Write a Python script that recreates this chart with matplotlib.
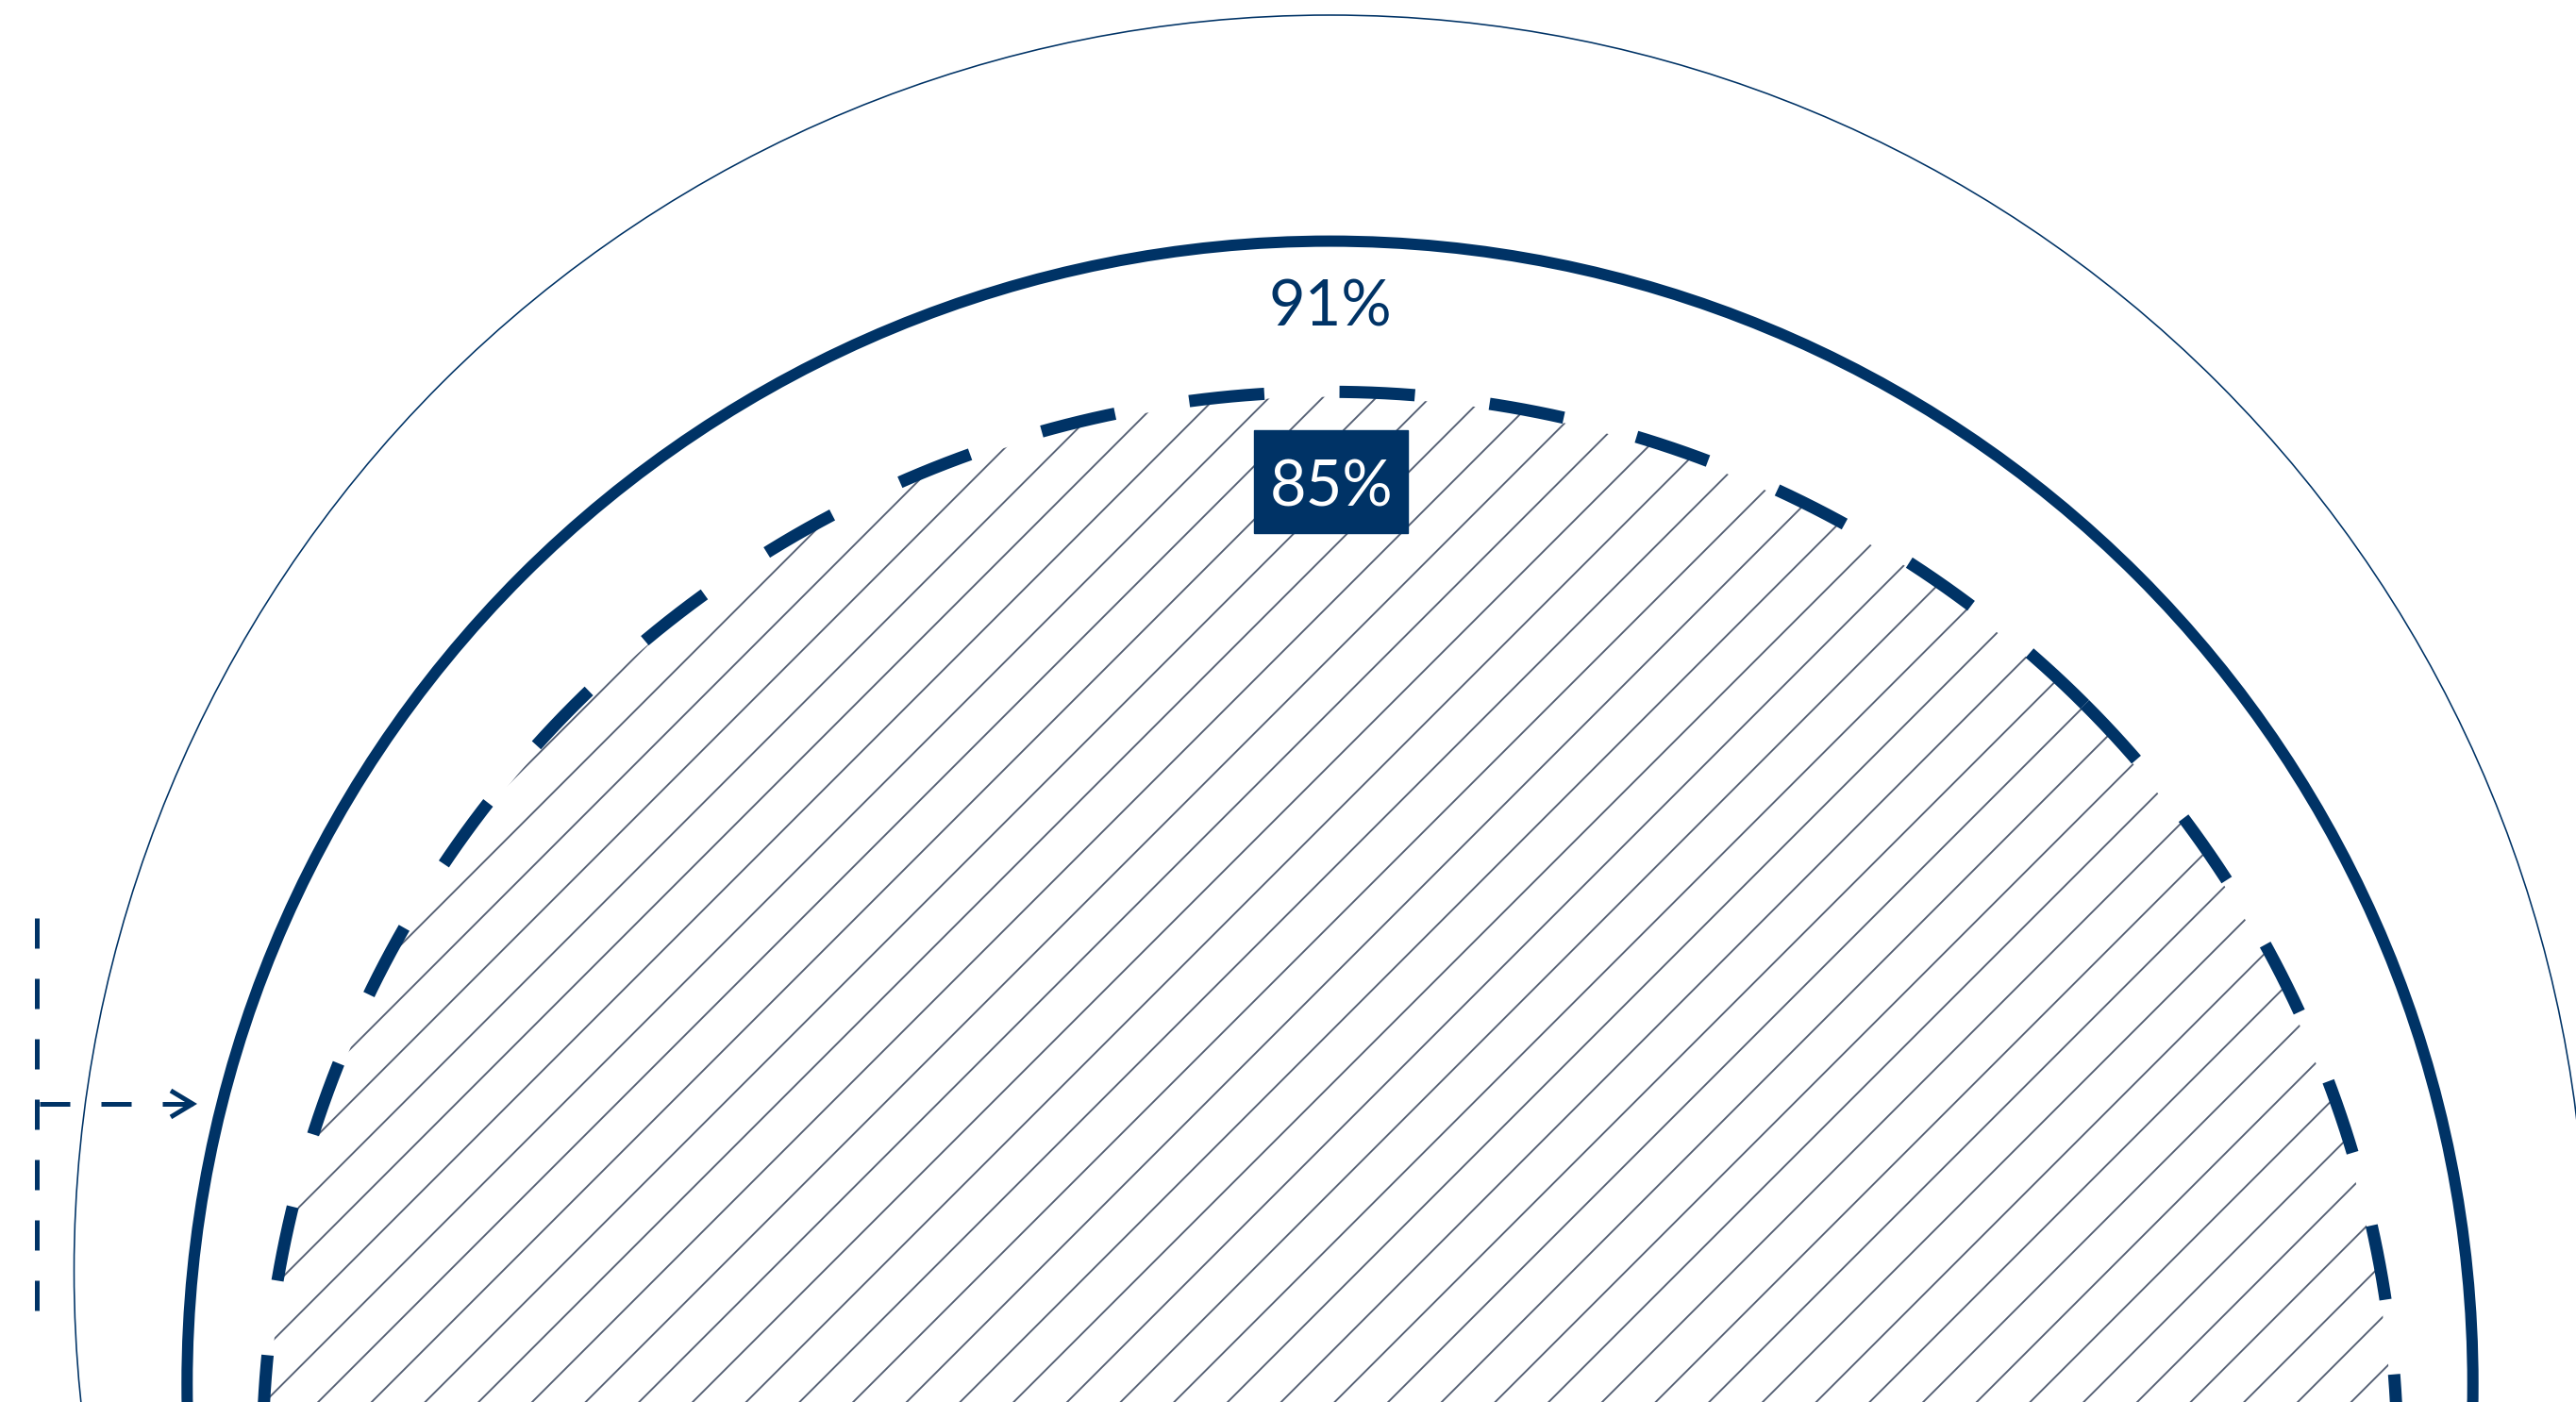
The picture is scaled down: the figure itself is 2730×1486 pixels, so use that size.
import numpy as np
import matplotlib.pyplot as plt
from matplotlib.patches import Circle, Rectangle
from matplotlib.collections import LineCollection

plt.rcParams['font.family'] = ['Lato', 'DejaVu Sans']
plt.rcParams['lines.scale_dashes'] = False

# valores (raio proporcional ao valor, todos os circulos apoiados na mesma base)
total = 100
valores = [91, 85]
rotulos = ['91%', '85%']

azul = '#003366'
cinza = '#566175'

# escala da figura: 1 unidade = 13.31 px
W, H, dpi = 2730, 1486, 100
s = 13.31
cx_px, base_px = 1409.5, 2678

fig = plt.figure(figsize=(W / dpi, H / dpi), dpi=dpi)
ax = fig.add_axes([0, 0, 1, 1])
ax.set_xlim(-cx_px / s, (W - cx_px) / s)
ax.set_ylim((base_px - H) / s, base_px / s)
ax.axis('off')

def pt(px):
    return px * 72 / dpi

# circulo total (linha fina)
ax.add_patch(Circle((0, total), total, fill=False, ec=azul, lw=pt(1.6)))

# circulo 91% (linha grossa)
r1 = valores[0]
ax.add_patch(Circle((0, r1), r1, fill=False, ec=azul, lw=pt(12)))

# circulo 85% tracejado: dois arcos que saem do ponto a 45 graus
# (o Agg reinicia o tracejado onde a linha sai da imagem)
r2 = valores[1]
for sentido in (-1, 1):
    t = np.pi / 4 + sentido * np.linspace(0, np.pi, 1200)
    ax.plot(r2 * np.cos(t), r2 + r2 * np.sin(t), color=azul, lw=pt(13),
            dashes=(pt(80), pt(79.7)), dash_capstyle='butt', zorder=3)

# hachura diagonal dentro do circulo 85%
passo = 56.7 / s
c0 = (4087.5 - 2050) / s
cs = c0 + passo * np.arange(-60, 60)
cs = cs[(cs > r2 - r2 * np.sqrt(2) - passo) & (cs < r2 + r2 * np.sqrt(2) + passo)]
segs = [[(-r2 - 5, -r2 - 5 + c), (r2 + 5, r2 + 5 + c)] for c in cs]
lc = LineCollection(segs, colors=cinza, linewidths=pt(1.9), zorder=1)
clip = Circle((0, r2), r2 - 0.4, transform=ax.transData)
lc.set_clip_path(clip)
ax.add_collection(lc)

# rotulos
ax.text(0, 2 * r1 - 6.72, rotulos[0], ha='center', va='baseline',
        fontsize=48, color=azul)
ax.add_patch(Rectangle((-6.05, 158.76), 12.25, 8.19, color=azul, zorder=4))
ax.text(0.08, 2 * r2 - 9.14, rotulos[1], ha='center', va='baseline',
        fontsize=48, color='white', zorder=5)

# anotacao a esquerda (linha tracejada vertical + seta)
ax.plot([-103.0, -103.0], [128.1, 96.85], color=azul, lw=pt(5),
        dashes=(pt(32), pt(32)), dash_capstyle='butt')
ax.plot([-102.75, -90.56], [113.3, 113.3], color=azul, lw=pt(5),
        dashes=(pt(32), pt(33)), dash_capstyle='butt')
ax.plot([-92.3, -90.56, -92.3], [114.35, 113.3, 112.25], color=azul,
        lw=pt(5), solid_capstyle='butt', solid_joinstyle='miter')

fig.savefig('out.png', dpi=dpi)
